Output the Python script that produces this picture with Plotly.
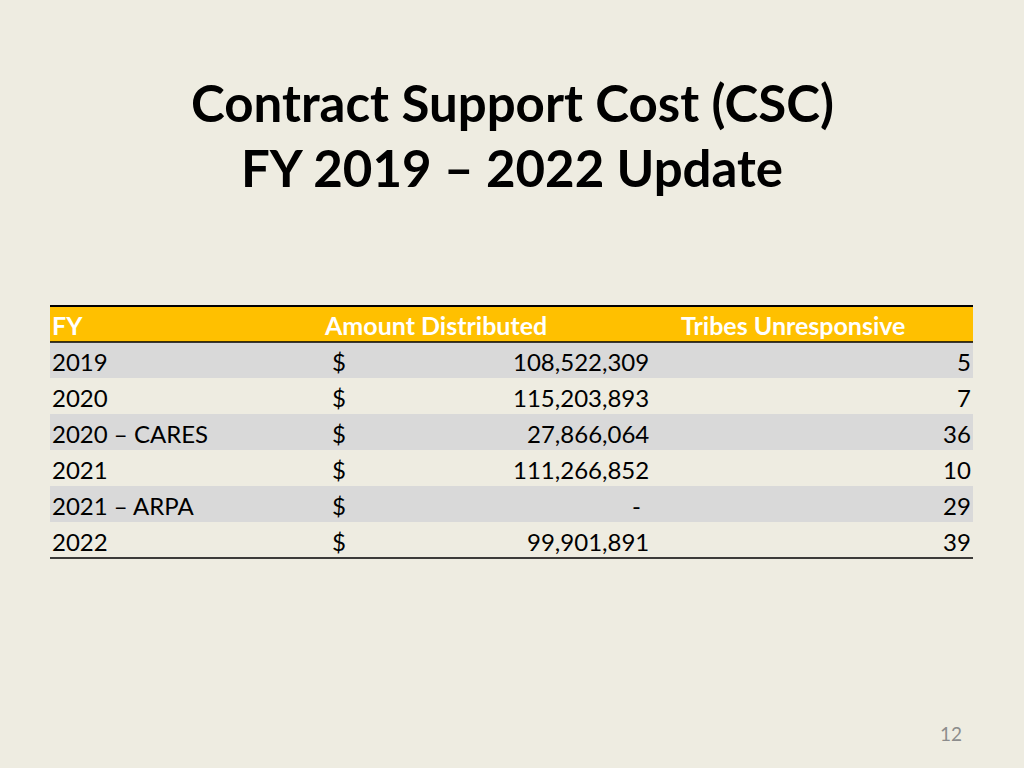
import plotly.graph_objects as go

# ---- data ----
fy_labels = ["2019", "2020", "2020 – CARES", "2021", "2021 – ARPA", "2022"]
amounts = [108522309, 115203893, 27866064, 111266852, 0, 99901891]
tribes_unresponsive = [5, 7, 36, 10, 29, 39]
headers = ["FY", "Amount Distributed", "Tribes Unresponsive"]
title_lines = ["Contract Support Cost (CSC)", "FY 2019 – 2022 Update"]
page_number = "12"

# ---- style ----
BG = "#EEECE1"
GOLD = "#FFC000"
STRIPE = "#D9D9D9"
FONT = "Lato"
CELL_SIZE = 24
HEAD_SIZE = 25

TABLE_X0, TABLE_X1 = 50, 973
HEADER_TOP = 306
ROW_H = 36
COL_FY_X = 50
COL_AMT_X = 322
COL_DOLLAR_X = 330
COL_AMT_RIGHT = 651
COL_TRIBES_X = 679
COL_TRIBES_RIGHT = 973

fig = go.Figure()

shapes = []
annotations = []

# header band
shapes.append(dict(type="rect", xref="x", yref="y", x0=TABLE_X0, x1=TABLE_X1,
                   y0=HEADER_TOP, y1=HEADER_TOP + ROW_H, fillcolor=GOLD, line_width=0, layer="below"))
# stripes
for i in range(len(fy_labels)):
    top = HEADER_TOP + ROW_H * (i + 1)
    if i % 2 == 0:
        shapes.append(dict(type="rect", xref="x", yref="y", x0=TABLE_X0, x1=TABLE_X1,
                           y0=top, y1=top + ROW_H, fillcolor=STRIPE, line_width=0, layer="below"))
# rules
n = len(fy_labels)
for y, w in [(HEADER_TOP, 2), (HEADER_TOP + ROW_H, 1.5), (HEADER_TOP + ROW_H * (n + 1), 1.5)]:
    shapes.append(dict(type="line", xref="x", yref="y", x0=TABLE_X0, x1=TABLE_X1,
                       y0=y, y1=y, line=dict(color="black", width=w)))

# header text
hy = HEADER_TOP + ROW_H / 2 + 1
for txt, x in zip(headers, [COL_FY_X, COL_AMT_X, COL_TRIBES_X]):
    annotations.append(dict(x=x, y=hy, xref="x", yref="y", text=f"<b>{txt}</b>", showarrow=False,
                            xanchor="left", yanchor="middle",
                            font=dict(family=FONT, size=HEAD_SIZE, color="white")))

# body text
for i, (f, a, t) in enumerate(zip(fy_labels, amounts, tribes_unresponsive)):
    cy = HEADER_TOP + ROW_H * (i + 1) + ROW_H / 2 + 1
    common = dict(xref="x", yref="y", y=cy, showarrow=False, yanchor="middle",
                  font=dict(family=FONT, size=CELL_SIZE, color="black"))
    annotations.append(dict(x=COL_FY_X, text=f, xanchor="left", **common))
    annotations.append(dict(x=COL_DOLLAR_X, text="$", xanchor="left", **common))
    if a == 0:
        annotations.append(dict(x=COL_AMT_RIGHT - 8, text="-", xanchor="right", **common))
    else:
        annotations.append(dict(x=COL_AMT_RIGHT, text=f"{a:,}", xanchor="right", **common))
    annotations.append(dict(x=COL_TRIBES_RIGHT, text=str(t), xanchor="right", **common))

# title
for line, y in zip(title_lines, [102, 167]):
    annotations.append(dict(x=512, y=y, xref="x", yref="y", text=f"<b>{line}</b>", showarrow=False,
                            xanchor="center", yanchor="middle",
                            font=dict(family=FONT, size=51, color="black")))

# page number
annotations.append(dict(x=951, y=733, xref="x", yref="y", text=page_number, showarrow=False,
                        xanchor="center", yanchor="middle",
                        font=dict(family=FONT, size=19, color="#8C8C8C")))

fig.update_layout(
    width=1024, height=768,
    margin=dict(l=0, r=0, t=0, b=0),
    paper_bgcolor=BG, plot_bgcolor=BG,
    xaxis=dict(range=[0, 1024], visible=False, fixedrange=True),
    yaxis=dict(range=[768, 0], visible=False, fixedrange=True),
    shapes=shapes, annotations=annotations, showlegend=False,
)

fig.write_html("out.html", config={"displayModeBar": False},
               post_script="document.body.style.margin='0';document.body.style.overflow='hidden';document.body.style.background='#EEECE1';")
